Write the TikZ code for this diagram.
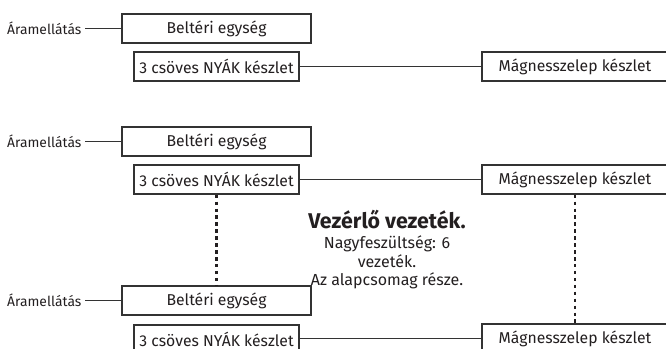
\documentclass[tikz,border=0pt]{standalone}
\usepackage{fontspec}
\setmainfont{Fira Sans}
\usepackage{xcolor}
\usepackage{tikz}
\usetikzlibrary{positioning}
\definecolor{inkDark}{RGB}{35, 31, 32}
\definecolor{frameGray}{RGB}{51, 51, 51}

\tikzset{
  unitbox/.style={draw=frameGray, line width=1pt, fill=white, inner sep=0pt, minimum height=21.75pt, text=inkDark, font=\fontsize{11.8}{13}\selectfont},
  powerlabel/.style={anchor=east, inner sep=2.5pt, text=inkDark, font=\fontsize{10.4}{12}\selectfont},
  wire/.style={draw=frameGray, line width=1pt},
  ctrlwire/.style={draw=inkDark, line width=1.8pt, dash pattern=on 2.6pt off 2.6pt}
}

\begin{document}
\begin{tikzpicture}[x=0.75pt, y=-0.75pt]
    \useasboundingbox (0,0) rectangle (666,349);
    \clip (0,0) rectangle (666,349);
    % First set
    \node[unitbox, minimum width=141.75pt] (belt1) at (216.5, 28.5) {Beltéri egység};
    \node[unitbox, minimum width=123.75pt] (nyak1) at (216.5, 66.5) {3 csöves NYÁK készlet};
    \node[unitbox, minimum width=139.5pt] (mag1) at (575, 66.5) {Mágnesszelep készlet};
    \node[powerlabel] (aram1) at (85, 28.5) {Áramellátás};
    \draw[wire] (aram1.east) -- (belt1.west);
    \draw[wire] (nyak1.east) -- (mag1.west);
    % Second set
    \node[unitbox, minimum width=141.75pt] (belt2) at (216.5, 141.5) {Beltéri egység};
    \node[unitbox, minimum width=123.75pt] (nyak2) at (216.5, 179.5) {3 csöves NYÁK készlet};
    \node[unitbox, minimum width=139.5pt] (mag2) at (575, 179.5) {Mágnesszelep készlet};
    \node[powerlabel] (aram2) at (85, 141.5) {Áramellátás};
    \draw[wire] (aram2.east) -- (belt2.west);
    \draw[wire] (nyak2.east) -- (mag2.west);
    % Third set
    \node[unitbox, minimum width=141.75pt] (belt3) at (216.5, 300.5) {Beltéri egység};
    \node[unitbox, minimum width=123.75pt] (nyak3) at (216.5, 339.5) {3 csöves NYÁK készlet};
    \node[unitbox, minimum width=139.5pt] (mag3) at (575, 338.5) {Mágnesszelep készlet};
    \node[powerlabel] (aram3) at (85, 300.5) {Áramellátás};
    \draw[wire] (aram3.east) -- (belt3.west);
    \draw[wire] (nyak3.east |- mag3.west) -- (mag3.west);
    % Control wires
    \draw[ctrlwire] (nyak2.south) -- (belt3.north);
    \draw[ctrlwire] (mag2.south) -- (mag3.north);
    % Note
    \node[text=inkDark, font=\fontsize{16}{18}\selectfont\bfseries] (title) at (387, 220) {Vezérlő vezeték.};
    \node[below=0pt of title, align=center, inner sep=1pt, text=inkDark, font=\fontsize{12}{13.9}\selectfont] (note) {Nagyfeszültség: 6\\vezeték.\\Az alapcsomag része.};
\end{tikzpicture}
\end{document}
